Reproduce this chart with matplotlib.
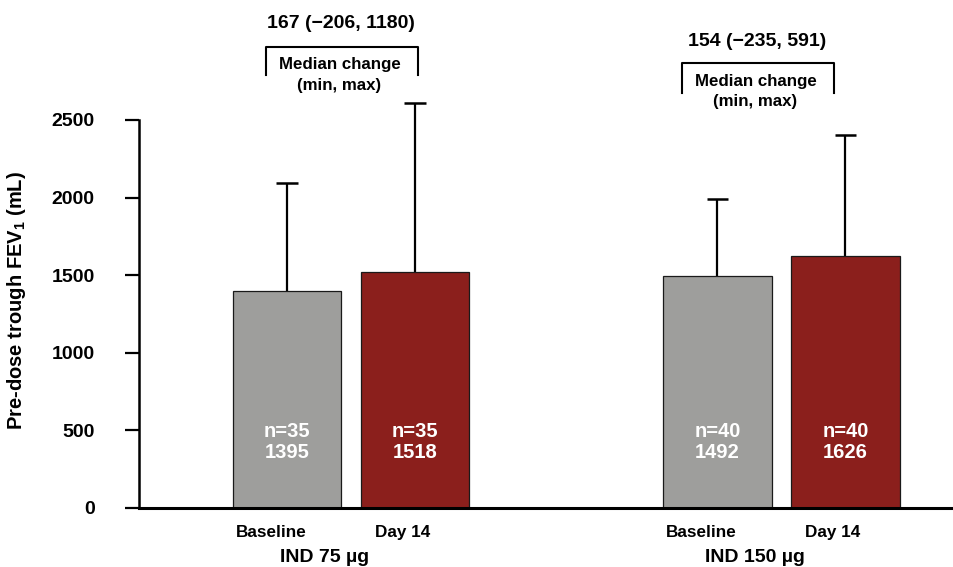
import matplotlib
matplotlib.use("Agg")
import matplotlib.pyplot as plt

plt.rcParams['font.family'] = ['Liberation Sans', 'DejaVu Sans']
plt.rcParams['font.weight'] = 'bold'
plt.rcParams['mathtext.fontset'] = 'custom'
plt.rcParams['mathtext.rm'] = 'Liberation Sans:bold'
plt.rcParams['mathtext.bf'] = 'Liberation Sans:bold'
plt.rcParams['mathtext.it'] = 'Liberation Sans:bold'

# ---- data ----
groups = ["IND 75 µg", "IND 150 µg"]
timepoints = ["Baseline", "Day 14"]
means = [1395, 1518, 1492, 1626]
sd_upper = [697, 1089, 500, 777]
n_values = [35, 35, 40, 40]
median_labels = ["167 (\u2212206, 1180)", "154 (\u2212235, 591)"]
yticks = [0, 500, 1000, 1500, 2000, 2500]

colors = ["#9e9e9c", "#8b1f1c"]

# ---- layout ----
W, H = 954, 567
fig = plt.figure(figsize=(W / 100, H / 100), dpi=100)
ax_l, ax_r, ax_b, ax_t = 139, 954, 507.7, 120
ax = fig.add_axes([ax_l / W, 1 - ax_b / H, (ax_r - ax_l) / W, (ax_b - ax_t) / H])

group_centers = [0.0, 3.363]
offsets = [-0.5, 0.5]
bar_w = 0.845

xs = []
for gc in group_centers:
    for off in offsets:
        xs.append(gc + off)
bar_colors = [colors[i % 2] for i in range(len(means))]

ax.bar(xs, means, width=bar_w, color=bar_colors, edgecolor="#1a1a1a",
       linewidth=0.9, zorder=3)

# upward-only error bars
tops = [m + s for m, s in zip(means, sd_upper)]
ax.vlines(xs, means, tops, color="black", linewidth=1.6, zorder=2, clip_on=False)
ax.hlines(tops, [x - 0.085 for x in xs], [x + 0.085 for x in xs],
          color="black", linewidth=1.8, zorder=2, clip_on=False)

# texts inside bars
for x, m, n in zip(xs, means, n_values):
    ax.text(x, 426, f"n={n}\n{m}", color="white", ha="center", va="center",
            fontsize=14.5, fontweight="bold", linespacing=1.15, zorder=4)

ax.set_xlim(-1.656, 4.711)
ax.set_ylim(0, 2500)
ax.set_yticks(yticks)
ax.set_yticklabels([str(t) for t in yticks], fontsize=14, fontweight="bold")
ax.tick_params(axis="y", length=10, width=1.6, pad=22)
ax.tick_params(axis="x", length=0, labelbottom=False)
ax.set_xticks([])

for s in ["top", "right"]:
    ax.spines[s].set_visible(False)
ax.spines["left"].set_linewidth(1.8)
ax.spines["bottom"].set_linewidth(2.2)
ax.spines["bottom"].set_zorder(5)

ax.set_ylabel(r"Pre-dose trough FEV$_{1}$ (mL)", fontsize=14.5, fontweight="bold")
ax.yaxis.set_label_coords(-0.136, 0.535)

# x labels (timepoints and groups)
tp_pos = [-0.625, 0.406, 2.734, 3.766]
grp_pos = [-0.21, 3.156]
for i, x in enumerate(tp_pos):
    ax.text(x, -160, timepoints[i % 2], ha="center", va="center",
            fontsize=12.3, fontweight="bold", clip_on=False)
for g, x in zip(groups, grp_pos):
    ax.text(x, -320, g, ha="center", va="center", fontsize=14,
            fontweight="bold", clip_on=False)

# brackets with median change annotations
sc = 0.1551  # px per unit
def py(p):
    return (ax_b - p) / sc

brackets = [
    dict(x0=-0.664, x1=0.523, ytop=47, ybot=75, tx=-0.078, ty=23, m1=64, m2=85),
    dict(x0=2.586, x1=3.773, ytop=63, ybot=92.5, tx=3.17, ty=41.7, m1=81.7, m2=101.7),
]
for b, lab in zip(brackets, median_labels):
    ax.plot([b["x0"], b["x0"], b["x1"], b["x1"]],
            [py(b["ybot"]), py(b["ytop"]), py(b["ytop"]), py(b["ybot"])],
            color="black", linewidth=1.5, clip_on=False)
    ax.text(b["tx"], py(b["ty"]), lab, ha="center", va="center",
            fontsize=14, fontweight="bold", clip_on=False)
    mx = (b["x0"] + b["x1"]) / 2 - 0.02
    ax.text(mx, py(b["m1"]), "Median change", ha="center", va="center",
            fontsize=12.2, fontweight="bold", clip_on=False)
    ax.text(mx, py(b["m2"]), "(min, max)", ha="center", va="center",
            fontsize=12.2, fontweight="bold", clip_on=False)

fig.savefig("out.png", dpi=100)
